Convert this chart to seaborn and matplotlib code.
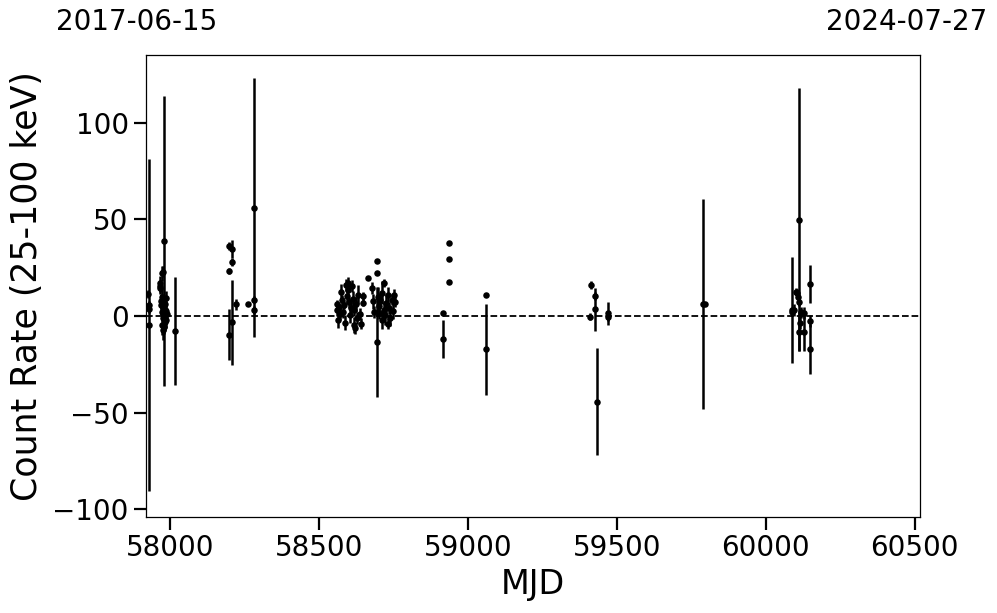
import matplotlib
matplotlib.use("Agg")
import matplotlib.pyplot as plt
import seaborn as sns
import pandas as pd

# ---- data ----
mjd = [
    57927, 57928, 57929, 57928,
    57980, 57974, 57976, 57966, 57967, 57965, 57974, 57985, 57970, 57968, 57983,
    57985, 57972, 57990, 57975, 57987, 57974, 57976, 57979, 57981, 57978, 57982,
    58018,
    58199, 58208, 58208, 58199, 58222, 58262, 58283, 58283, 58283, 58209, 58198,
    58560, 58562, 58565, 58568, 58570, 58575, 58578, 58580, 58583, 58587, 58590,
    58593, 58596, 58598, 58601, 58604, 58607, 58610, 58613, 58616, 58619, 58622,
    58625, 58628, 58632, 58636, 58640, 58647, 58647, 58664,
    58677, 58680, 58683, 58694, 58694, 58694, 58697, 58700, 58703, 58706, 58710,
    58713, 58717, 58719, 58722, 58726, 58730, 58733, 58736, 58740, 58744, 58748,
    58751, 58754,
    58916, 58916, 58936, 58937, 58937, 59060, 59060,
    59410, 59413, 59427, 59427, 59434, 59470, 59470,
    59791, 59796,
    60087, 60104, 60107, 60111, 60089, 60127, 60116, 60150, 60111, 60111, 60127,
    60148, 60150, 60120, 60100, 60094,
]
rate = [
    11.2, 5.7, 3.6, -4.7,
    38.8, 22.0, 23.0, 16.9, 15.5, 14.3, 10.0, 9.1, 7.5, 5.7, 6.0,
    2.6, 2.2, 0.9, -1.2, -2.0, -4.7, -7.2, -5.5, 1.5, 4.0, -3.0,
    -7.8,
    36.3, 34.7, 28.0, 23.2, 6.0, 6.3, 56.0, 8.5, 3.0, -3.2, -9.6,
    3.1, 6.0, -2.0, 4.5, 1.0, 12.6, 8.0, 2.0, 5.5, -3.5, 16.0,
    10.5, 16.9, 13.4, 7.0, 0.5, 4.0, 15.5, 9.0, -4.7, 3.0, -6.4,
    6.0, -1.0, 11.0, 1.0, -4.0, 10.3, 6.9, 19.5,
    14.5, 7.5, 2.0, 28.4, 22.1, -13.3, 10.0, 5.0, 1.5, 8.0, -2.0,
    12.0, 16.9, 3.0, 0.5, 6.5, -4.0, 11.0, 4.0, -1.0, 8.5, 2.5,
    10.9, 7.4,
    1.4, -12.0, 37.6, 29.3, 17.4, 10.9, -17.2,
    -0.3, 16.0, 10.3, 3.4, -44.3, 1.4, -0.5,
    6.2, 6.0,
    3.0, 11.7, 10.0, 7.4, 2.2, 1.4, -3.6, -2.6, 49.9, -8.1, -8.1,
    16.5, -17.0, 1.8, 12.6, 3.0,
]
err = [
    2, 2, 2, 86,
    75, 4, 3, 4, 3, 3, 5, 4, 4, 5, 3,
    4, 5, 3, 6, 4, 5, 5, 4, 4, 6, 5,
    28,
    2, 4.5, 2, 1.5, 3, 1, 67, 2, 2, 22, 13,
    3, 2, 4, 2, 3, 4, 3, 3, 2, 4, 3,
    4, 3, 3, 3, 4, 3, 3, 4, 4, 3, 3,
    4, 3, 5, 3, 3, 2, 2, 1,
    3, 4, 3, 1, 1, 28.4, 5, 4, 3, 4, 5,
    6, 2, 4, 5, 5, 3, 4, 3, 4, 3, 4,
    3, 3,
    1, 10, 1, 1, 1, 1, 23.5,
    2, 2, 2, 11, 27.6, 6, 2,
    54.5, 1,
    27.5, 2, 2, 2, 2, 3, 3, 3, 68, 10, 10,
    10, 13, 3, 2, 3,
]

x_ticks = [58000, 58500, 59000, 59500, 60000, 60500]
y_ticks = [-100, -50, 0, 50, 100]
start_label = "2017-06-15"
end_label = "2024-07-27"
x_range = (57919, 60518)
y_range = (-104, 135)

df = pd.DataFrame({"MJD": mjd, "rate": rate, "err": err})

sns.set_theme(style="ticks")
plt.rcParams["font.family"] = ["DejaVu Sans"]

fig = plt.figure(figsize=(9.97, 6.13), dpi=100)
ax = fig.add_axes([146 / 997, 1 - 517 / 613, (920 - 146) / 997, (517 - 55) / 613])

ax.errorbar(df["MJD"], df["rate"], yerr=df["err"], fmt="none",
            ecolor="black", elinewidth=1.8, capsize=0, zorder=2)
sns.scatterplot(data=df, x="MJD", y="rate", color="black", s=22,
                linewidth=0, ax=ax, zorder=3)
ax.axhline(0, color="black", ls="--", lw=1.3, zorder=1)

ax.set_xlim(*x_range)
ax.set_ylim(*y_range)
ax.set_xticks(x_ticks)
ax.set_yticks(y_ticks)
ax.tick_params(axis="both", which="major", labelsize=20, length=9,
               width=1.6, color="black", labelcolor="black", direction="out")
for s in ax.spines.values():
    s.set_linewidth(0.9)
    s.set_color("black")

ax.set_xlabel("MJD", fontsize=24, color="black", labelpad=4)
ax.set_ylabel("Count Rate (25-100 keV)", fontsize=25, color="black", labelpad=6)

fig.text(137 / 997, 1 - 22 / 613, start_label, ha="center", va="center",
         fontsize=20, color="black")
fig.text(907 / 997, 1 - 22 / 613, end_label, ha="center", va="center",
         fontsize=20, color="black")

fig.savefig("out.png", dpi=100)
